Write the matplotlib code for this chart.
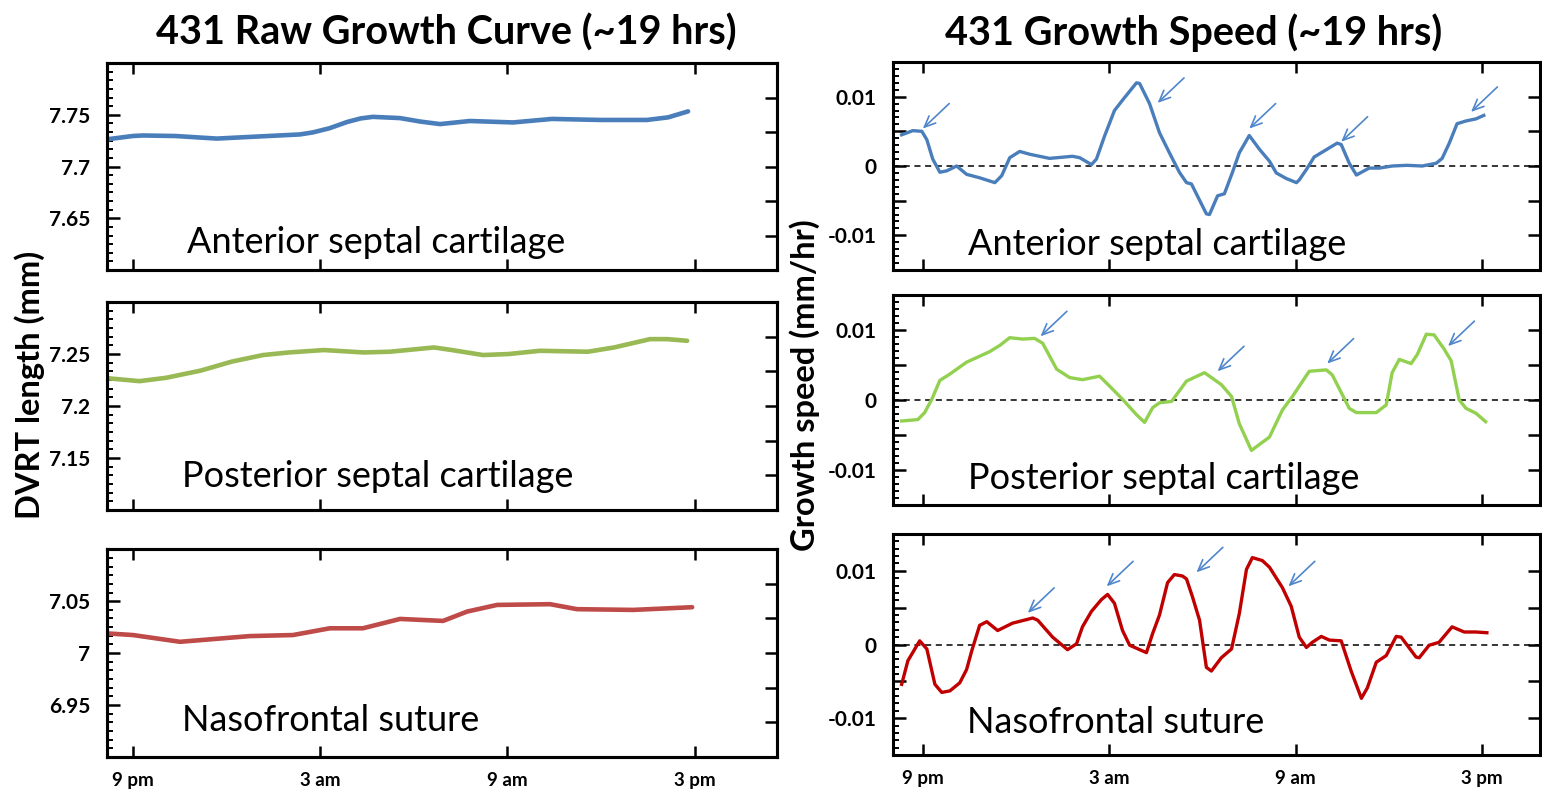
import numpy as np
import matplotlib
matplotlib.use("Agg")
import matplotlib.pyplot as plt
from matplotlib.ticker import MultipleLocator, FuncFormatter, AutoMinorLocator

plt.rcParams["font.family"] = ["Lato", "DejaVu Sans"]
plt.rcParams["font.weight"] = "bold"

# hours after 9 pm
tick_hours = [0, 6, 12, 18]
tick_labels = ["9 pm", "3 am", "9 am", "3 pm"]
panel_names = ["Anterior septal cartilage", "Posterior septal cartilage", "Nasofrontal suture"]

# ---- raw growth curves (DVRT length, mm)
ant_raw_h = [-0.83, 0.0, 0.32, 1.35, 2.69, 4.0, 5.35, 5.77, 6.3, 6.86, 7.3, 7.69, 8.56, 9.2,
             9.84, 10.80, 12.18, 13.43, 14.97, 16.47, 17.15, 17.79]
ant_raw_v = [7.7263, 7.7295, 7.730, 7.7295, 7.727, 7.729, 7.731, 7.733, 7.737, 7.743, 7.7465,
             7.748, 7.7468, 7.7435, 7.741, 7.744, 7.7426, 7.746, 7.745, 7.745, 7.7475, 7.7533]

post_raw_h = [-0.85, 0.21, 1.06, 2.18, 3.17, 4.17, 5.0, 6.12, 7.4, 8.24, 9.65, 10.22, 11.22,
              12.05, 13.04, 14.58, 15.42, 16.57, 17.12, 17.76]
post_raw_v = [7.2268, 7.2239, 7.2271, 7.2341, 7.2427, 7.249, 7.2515, 7.2538, 7.2515, 7.2522,
              7.2563, 7.2538, 7.249, 7.250, 7.2531, 7.2522, 7.2563, 7.2643, 7.2643, 7.2627]

naso_raw_h = [-0.83, 0.0, 1.51, 3.75, 5.13, 6.31, 7.37, 8.56, 9.94, 10.71, 11.67, 13.37,
              14.23, 16.03, 17.92]
naso_raw_v = [7.019, 7.0174, 7.0109, 7.0164, 7.0174, 7.0239, 7.0239, 7.0329, 7.031, 7.040,
              7.0464, 7.0471, 7.0423, 7.0416, 7.0442]

raw_ylims = [(7.6, 7.8), (7.1, 7.3), (6.9, 7.1)]
raw_yticks = [[7.65, 7.7, 7.75], [7.15, 7.2, 7.25], [6.95, 7.0, 7.05]]
raw_yticklabels = [["7.65", "7.7", "7.75"], ["7.15", "7.2", "7.25"], ["6.95", "7", "7.05"]]

# ---- growth speed (mm/hr)
ant_sp_h = [-0.68, -0.32, -0.03, 0.13, 0.32, 0.55, 0.77, 1.09, 1.41, 1.83, 2.32, 2.54, 2.80,
            3.12, 3.44, 4.08, 4.82, 5.05, 5.43, 5.59, 5.85, 6.17, 6.43, 6.88, 6.98, 7.30,
            7.62, 7.94, 8.26, 8.49, 8.65, 9.13, 9.23, 9.49, 9.71, 9.97, 10.19, 10.51, 10.84,
            11.16, 11.38, 11.70, 12.03, 12.12, 12.35, 12.60, 12.86, 13.34, 13.47, 13.73,
            13.96, 14.37, 14.70, 15.11, 15.59, 16.08, 16.53, 16.72, 16.95, 17.20, 17.49,
            17.81, 18.06]
ant_sp_v = [0.0045, 0.0051, 0.0050, 0.0038, 0.0010, -0.0009, -0.0007, 0.0000, -0.0012,
            -0.0017, -0.0024, -0.0014, 0.0012, 0.0021, 0.0017, 0.0011, 0.0014, 0.0012,
            0.0002, 0.0010, 0.0043, 0.0080, 0.0095, 0.0120, 0.0119, 0.0090, 0.0048, 0.0019,
            -0.0009, -0.0024, -0.0026, -0.0069, -0.0070, -0.0043, -0.0040, -0.0009, 0.0019,
            0.0044, 0.0024, 0.0007, -0.0010, -0.0018, -0.0024, -0.0020, -0.0005, 0.0013,
            0.0020, 0.0033, 0.0031, 0.0004, -0.0013, -0.0003, -0.0003, 0.0000, 0.0001,
            0.0000, 0.0004, 0.0011, 0.0033, 0.0061, 0.0065, 0.0068, 0.0073]

post_sp_h = [-0.68, -0.16, 0.06, 0.29, 0.55, 0.87, 1.41, 2.15, 2.48, 2.80, 3.22, 3.60, 3.86,
             4.31, 4.73, 5.14, 5.69, 6.01, 6.43, 6.88, 7.14, 7.40, 7.62, 8.01, 8.49, 9.07,
             9.61, 9.94, 10.19, 10.58, 11.16, 11.58, 11.90, 12.44, 12.99, 13.18, 13.73,
             13.96, 14.60, 14.92, 15.11, 15.34, 15.72, 15.92, 16.21, 16.46, 16.78, 17.01,
             17.27, 17.49, 17.81, 18.12]
post_sp_v = [-0.0030, -0.0028, -0.0018, 0.0001, 0.0028, 0.0037, 0.0054, 0.0069, 0.0078,
             0.0089, 0.0087, 0.0088, 0.0081, 0.0044, 0.0032, 0.0029, 0.0034, 0.0020, 0.0001,
             -0.0021, -0.0032, -0.0011, -0.0004, -0.0002, 0.0027, 0.0039, 0.0022, 0.0005,
             -0.0034, -0.0072, -0.0053, -0.0014, 0.0005, 0.0041, 0.0043, 0.0036, -0.0012,
             -0.0018, -0.0018, -0.0007, 0.0039, 0.0058, 0.0052, 0.0065, 0.0094, 0.0093,
             0.0073, 0.0056, 0.0000, -0.0012, -0.0019, -0.0031]

naso_sp_h = [-0.68, -0.48, -0.10, 0.13, 0.39, 0.61, 0.87, 1.19, 1.41, 1.58, 1.83, 2.06, 2.41,
             2.89, 3.54, 3.70, 4.18, 4.66, 4.95, 5.14, 5.43, 5.75, 5.95, 6.17, 6.43, 6.66,
             7.20, 7.40, 7.62, 7.88, 8.10, 8.36, 8.49, 8.68, 8.91, 9.13, 9.29, 9.61, 9.94,
             10.19, 10.42, 10.61, 10.93, 11.16, 11.58, 11.86, 12.12, 12.35, 12.54, 12.83,
             13.09, 13.47, 13.79, 14.12, 14.31, 14.60, 14.92, 15.24, 15.40, 15.88, 15.98,
             16.30, 16.62, 17.04, 17.43, 17.81, 18.16]
naso_sp_v = [-0.0054, -0.0022, 0.0005, -0.0006, -0.0054, -0.0065, -0.0063, -0.0052, -0.0034,
             -0.0008, 0.0026, 0.0031, 0.0019, 0.0029, 0.0036, 0.0033, 0.0010, -0.0007, 0.0001,
             0.0024, 0.0045, 0.0061, 0.0068, 0.0056, 0.0019, -0.0001, -0.0011, 0.0015,
             0.0040, 0.0084, 0.0095, 0.0093, 0.0089, 0.0065, 0.0033, -0.0031, -0.0036,
             -0.0018, -0.0006, 0.0042, 0.0102, 0.0118, 0.0114, 0.0105, 0.0077, 0.0052,
             0.0010, -0.0004, 0.0003, 0.0011, 0.0006, 0.0005, -0.0036, -0.0073, -0.0059,
             -0.0024, -0.0015, 0.0011, 0.0010, -0.0017, -0.0018, -0.0001, 0.0003, 0.0024,
             0.0017, 0.0017, 0.0016]

# arrow heads marking speed peaks (hour, speed)
ant_arrows = [(0.0, 0.0054), (7.56, 0.0091), (10.51, 0.0054), (13.47, 0.0035), (17.65, 0.0078)]
post_arrows = [(3.79, 0.0091), (9.49, 0.0041), (13.02, 0.0052), (16.91, 0.0077)]
naso_arrows = [(3.38, 0.0043), (5.92, 0.0079), (8.81, 0.0098), (11.77, 0.0079)]

raw_series = [(ant_raw_h, ant_raw_v), (post_raw_h, post_raw_v), (naso_raw_h, naso_raw_v)]
speed_series = [(ant_sp_h, ant_sp_v), (post_sp_h, post_sp_v), (naso_sp_h, naso_sp_v)]
arrow_sets = [ant_arrows, post_arrows, naso_arrows]

raw_colors = ["#4a7ebb", "#98b954", "#be4b48"]
speed_colors = ["#4a7ebb", "#92d050", "#c00000"]
arrow_color = "#4f86cc"

fig = plt.figure(figsize=(15.42, 7.96), dpi=100)

left_boxes = [[0.0694, 0.6608, 0.4345, 0.2600],
              [0.0694, 0.3593, 0.4345, 0.2613],
              [0.0694, 0.0490, 0.4345, 0.2610]]
right_boxes = [[0.5791, 0.6608, 0.4196, 0.2613],
               [0.5791, 0.3656, 0.4196, 0.2638],
               [0.5791, 0.0515, 0.4196, 0.2776]]
left_text_pos = [(0.119, 0.135), (0.112, 0.16), (0.112, 0.178)]
right_text_pos = [(0.116, 0.125), (0.116, 0.124), (0.114, 0.145)]


def style_axes(ax, show_x):
    for s in ax.spines.values():
        s.set_linewidth(2.2)
    ax.set_xticks(tick_hours)
    ax.set_xticklabels(tick_labels if show_x else [], fontsize=13.5)
    ax.tick_params(axis="x", which="major", direction="in", top=True, bottom=True,
                   length=8, width=1.8, pad=11)
    ax.tick_params(axis="y", which="major", direction="in", length=9, width=1.8,
                   pad=12, labelsize=15)
    ax.tick_params(axis="y", which="minor", direction="in", length=4, width=1.4)


# left column: raw growth curves
for i in range(3):
    ax = fig.add_axes(left_boxes[i])
    h, v = raw_series[i]
    ax.plot(h, v, color=raw_colors[i], lw=3.3, solid_capstyle="round", solid_joinstyle="round")
    ax.set_xlim(-0.83, 20.64)
    ax.set_ylim(*raw_ylims[i])
    ax.set_yticks(raw_yticks[i])
    ax.set_yticklabels(raw_yticklabels[i])
    ax.yaxis.set_minor_locator(AutoMinorLocator(6))
    style_axes(ax, i == 2)
    ax.text(left_text_pos[i][0], left_text_pos[i][1], panel_names[i], transform=ax.transAxes,
            fontsize=26, fontweight="normal", va="center", ha="left")
    ax2 = ax.twinx()
    ax2.set_ylim(*raw_ylims[i])
    ax2.set_yticks(np.linspace(raw_ylims[i][0], raw_ylims[i][1], 7)[1:-1])
    ax2.tick_params(axis="y", direction="in", length=9, width=1.8, labelright=False)
    for s in ax2.spines.values():
        s.set_linewidth(2.2)

# right column: growth speed
for i in range(3):
    ax = fig.add_axes(right_boxes[i])
    h, v = speed_series[i]
    ax.axhline(0, color="black", lw=1.1, ls=(0, (4, 3)))
    ax.plot(h, v, color=speed_colors[i], lw=2.4, solid_joinstyle="round")
    for (ah, av) in arrow_sets[i]:
        ax.annotate("", xy=(ah, av), xytext=(19, 18), textcoords="offset points",
                    arrowprops=dict(arrowstyle="->, head_length=0.8, head_width=0.35",
                                    color=arrow_color, lw=1.2, shrinkA=0, shrinkB=0))
    ax.set_xlim(-0.96, 19.87)
    ax.set_ylim(-0.015, 0.015)
    ax.yaxis.set_major_locator(MultipleLocator(0.005))
    ax.yaxis.set_major_formatter(FuncFormatter(
        lambda y, p: ("0" if abs(y) < 1e-9 else ("%g" % round(y, 3)))
        if abs(round(y / 0.01) - y / 0.01) < 1e-6 else ""))
    ax.yaxis.set_minor_locator(MultipleLocator(0.001))
    style_axes(ax, i == 2)
    ax.tick_params(axis="y", which="major", right=True)
    ax.tick_params(axis="y", which="minor", right=False)
    ax.text(right_text_pos[i][0], right_text_pos[i][1], panel_names[i], transform=ax.transAxes,
            fontsize=26, fontweight="normal", va="center", ha="left")

fig.text(0.2892, 0.9585, "431 Raw Growth Curve (~19 hrs)", fontsize=28.5, ha="center", va="center")
fig.text(0.7743, 0.9585, "431 Growth Speed (~19 hrs)", fontsize=28.5, ha="center", va="center")
fig.text(0.0195, 0.5163, "DVRT length (mm)", fontsize=23.5, rotation=90, ha="center", va="center")
fig.text(0.522, 0.5163, "Growth speed (mm/hr)", fontsize=23.5, rotation=90, ha="center", va="center")

fig.savefig("out.png", dpi=100)
